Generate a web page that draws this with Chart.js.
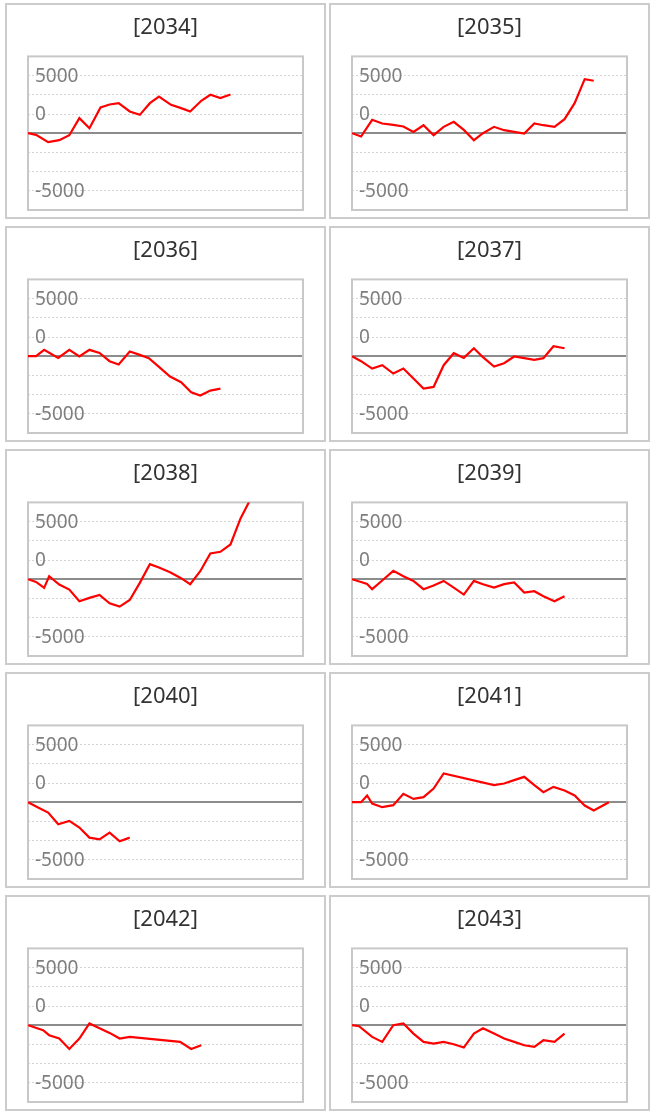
<!DOCTYPE html>
<html>
<head>
<meta charset="utf-8">
<script src="https://cdn.jsdelivr.net/npm/chart.js@4.4.0/dist/chart.umd.min.js"></script>
<style>
  body { margin: 0; background: #fff; }
  .panel { position: absolute; width: 321px; height: 216px; border: 2px solid #ccc; box-sizing: border-box; background: #fff; }
  .panel canvas { display: block; }
</style>
</head>
<body>
<div id="grid"></div>
<script>
const years = ["2034", "2035", "2036", "2037", "2038", "2039", "2040", "2041", "2042", "2043"];

// y tick labels as they sit in the picture
const yTickValues = [7500, 2500, -7500];
const yTickLabels = ["5000", "0", "-5000"];

const x2034 = [0, 0.8, 2, 3.1, 4.1, 5.1, 6.1, 7.2, 8.1, 9, 10.1, 11.1, 12.1, 13, 14.2, 15.2, 16.1, 17.2, 18.1, 19.1, 20.1];
const y2034 = [0, -220, -1170, -910, -260, 1960, 650, 3350, 3740, 3910, 2830, 2390, 3910, 4780, 3700, 3260, 2830, 4220, 5000, 4570, 5040];

const x2035 = [0, 0.9, 2, 3, 4.1, 5.1, 6.1, 7.1, 8.1, 9.1, 10.1, 11.1, 12.1, 13, 14.1, 15.1, 16.1, 17.1, 18.1, 19, 20.1, 21.1, 22.1, 23.1, 24];
const y2035 = [0, -430, 1740, 1260, 1090, 870, 170, 1040, -260, 830, 1480, 430, -910, 0, 830, 390, 170, -40, 1260, 1040, 830, 1830, 3910, 7040, 6830];

const x2036 = [0, 0.8, 1.6, 3, 4.1, 5.1, 6.1, 7.1, 8.1, 9, 10.1, 11.1, 12, 13, 14.1, 15.2, 16.2, 17.1, 18.1, 19.1];
const y2036 = [0, 0, 830, -220, 830, -40, 830, 430, -650, -1090, 610, 170, -260, -1390, -2650, -3390, -4700, -5130, -4480, -4220];

const x2037 = [0, 0.9, 2, 3, 4.1, 5.1, 6.1, 7.1, 8.1, 9.1, 10.1, 11.1, 12.1, 13, 14.1, 15.1, 16.1, 17.1, 18.1, 19, 20, 21.1];
const y2037 = [0, -650, -1610, -1170, -2260, -1610, -2910, -4220, -4000, -1170, 390, -220, 1040, -130, -1350, -910, -40, -260, -480, -260, 1300, 1040];

const x2038 = [0, 0.8, 1.6, 2.1, 3.1, 4.1, 5.1, 6.1, 7.1, 8.1, 9.1, 10.1, 11.1, 12.1, 13, 14.1, 15.2, 16.1, 17.1, 18.1, 19.1, 20.1, 21.1, 22];
const y2038 = [0, -350, -1130, 390, -700, -1350, -2870, -2430, -2040, -3130, -3570, -2700, -480, 1960, 1520, 910, 130, -650, 1040, 3350, 3570, 4520, 7910, 10200];

const x2039 = [0, 1.5, 2, 3, 4.1, 5.1, 6.1, 7.1, 8.1, 9.1, 10.1, 11.1, 12.1, 13, 14.1, 15.1, 16.1, 17.1, 18.1, 19, 20.1, 21.1];
const y2039 = [0, -610, -1300, -170, 1090, 390, -220, -1300, -830, -220, -1090, -2000, -220, -650, -1090, -650, -430, -1740, -1570, -2220, -2870, -2220];

const x2040 = [0, 1, 2, 3, 4.1, 5.1, 6.1, 7.1, 8.1, 9.1, 10.1];
const y2040 = [0, -700, -1350, -2870, -2430, -3300, -4610, -4830, -3960, -5090, -4610];

const x2041 = [0, 0.9, 1.5, 2, 3, 4.1, 5.1, 6.1, 7.1, 8.1, 9.1, 14.1, 15.1, 16.1, 17.1, 18.1, 19, 20, 21.1, 22.1, 23.1, 24, 25.5];
const y2041 = [0, 0, 870, -170, -650, -390, 1090, 430, 650, 1780, 3740, 2220, 2430, 2870, 3300, 2220, 1300, 2000, 1520, 870, -430, -1090, 0];

const x2042 = [0, 1.5, 2.1, 3.1, 4.1, 5.1, 6.1, 7.1, 8.1, 9.1, 10.1, 15.1, 16.2, 17.2];
const y2042 = [0, -650, -1300, -1740, -3090, -1740, 220, -390, -1000, -1740, -1520, -2170, -3090, -2610];

const x2043 = [0, 0.7, 2, 3, 4.1, 5.1, 6.1, 7.1, 8.1, 9.1, 10.1, 11.1, 12.1, 13, 14.1, 15.1, 16.1, 17.1, 18.1, 19, 20.1, 21.1];
const y2043 = [0, -130, -1520, -2170, 0, 220, -1090, -2170, -2390, -2170, -2480, -2910, -1090, -390, -1090, -1740, -2170, -2610, -2830, -1960, -2170, -1090];

const seriesX = [x2034, x2035, x2036, x2037, x2038, x2039, x2040, x2041, x2042, x2043];
const seriesY = [y2034, y2035, y2036, y2037, y2038, y2039, y2040, y2041, y2042, y2043];

// grey box round the plot area, drawn under the line
const frame = {
  id: "frame",
  beforeDatasetsDraw(chart) {
    const { ctx, chartArea: a } = chart;
    ctx.save();
    ctx.strokeStyle = "#c8c8c8";
    ctx.lineWidth = 2;
    ctx.strokeRect(a.left, a.top, a.right - a.left, a.bottom - a.top);
    ctx.restore();
  },
};

const grid = document.getElementById("grid");

years.forEach((year, i) => {
  const col = i % 2;
  const row = Math.floor(i / 2);

  const panel = document.createElement("div");
  panel.className = "panel";
  panel.style.left = 5 + col * 324 + "px";
  panel.style.top = 3 + row * 223 + "px";
  const canvas = document.createElement("canvas");
  canvas.width = 317;
  canvas.height = 212;
  panel.appendChild(canvas);
  grid.appendChild(panel);

  const points = seriesX[i].map((x, k) => ({ x: x, y: seriesY[i][k] }));

  new Chart(canvas, {
    type: "line",
    data: {
      datasets: [
        {
          data: points,
          borderColor: "#ff0000",
          borderWidth: 2.2,
          pointRadius: 0,
          tension: 0,
          fill: false,
        },
      ],
    },
    options: {
      responsive: false,
      animation: false,
      events: [],
      layout: { padding: { left: 21, right: 21, top: 0, bottom: 7 } },
      plugins: {
        legend: { display: false },
        tooltip: { enabled: false },
        title: {
          display: true,
          text: "[" + year + "]",
          color: "#333",
          font: { family: "Noto Sans", size: 22, weight: "normal" },
          padding: { top: 10, bottom: 15 },
        },
      },
      scales: {
        x: { type: "linear", min: 0, max: 27.3, display: false },
        y: {
          min: -10000,
          max: 10000,
          afterFit: (scale) => {
            // labels sit inside the plot, so the axis takes no room
            scale.width = 0;
            scale.paddingTop = 0;
            scale.paddingBottom = 0;
          },
          ticks: {
            stepSize: 2500,
            autoSkip: false,
            mirror: true,
            padding: 7,
            labelOffset: 1,
            color: "#7f7f7f",
            font: { family: "Noto Sans", size: 19 },
            callback: (v) => {
              if (v === 10000 || v === -10000) return null;
              const k = yTickValues.indexOf(v);
              return k < 0 ? "" : yTickLabels[k];
            },
          },
          grid: {
            drawTicks: false,
            color: (c) => (c.tick && c.tick.value === 0 ? "#8c8c8c" : "#d4d4d4"),
            lineWidth: (c) => (c.tick && c.tick.value === 0 ? 2 : 1),
          },
          border: {
            display: false,
            dash: (c) => (c.tick && c.tick.value === 0 ? [] : [2, 2]),
          },
        },
      },
    },
    plugins: [frame],
  });
});
</script>
</body>
</html>
